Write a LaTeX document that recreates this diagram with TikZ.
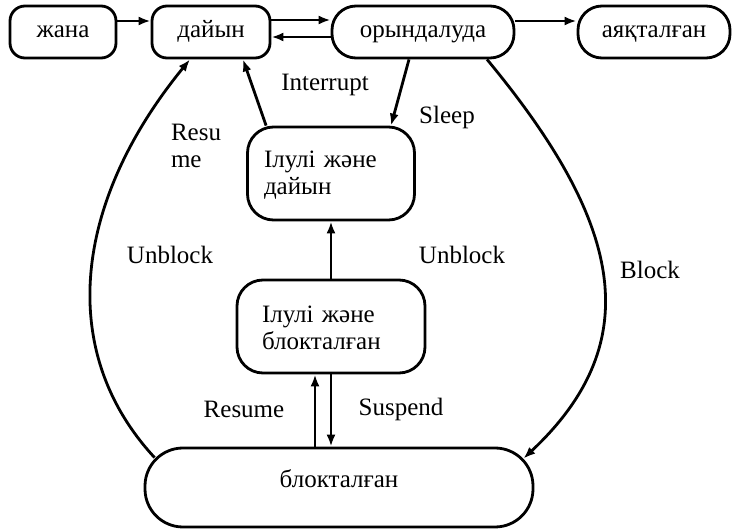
\documentclass[tikz,border=0pt]{standalone}
\usepackage{fontspec}
\setmainfont{Liberation Serif}
\usetikzlibrary{arrows.meta}

\begin{document}
\begin{tikzpicture}[x=1pt, y=-1pt, line width=2.8pt, >={Latex[length=12pt,width=9pt]},
        state/.style={draw, inner sep=0pt, minimum height=52pt, text height=11pt, text depth=0pt, font=\fontsize{25}{27}\selectfont},
        susp/.style={draw, inner sep=0pt, minimum height=93pt, rounded corners=26pt, align=left, font=\fontsize{25}{27}\selectfont},
        lbl/.style={inner sep=0pt, align=left, font=\fontsize{25}{27}\selectfont}]
        \useasboundingbox (0,0) rectangle (732,529);

        \node[state, rounded corners=15pt, minimum width=106pt] (new) at (63,32) {жана};
        \node[state, rounded corners=15pt, minimum width=118pt] (ready) at (211,32) {дайын};
        \node[state, rounded corners=24pt, minimum width=182pt] (running) at (423,32) {орындалуда};
        \node[state, rounded corners=24pt, minimum width=152pt] (exit) at (654,32) {аяқталған};
        \node[susp, minimum width=167pt, text width=134pt] (readysusp) at (331,173.5) {\rule{0pt}{20pt}Ілулі және\\дайын};
        \node[susp, minimum width=188pt, text width=138pt] (blocksusp) at (331,326.5) {\rule{0pt}{20pt}Ілулі және\\блокталған};
        \node[state, rounded corners=38pt, minimum width=388pt, minimum height=79pt, text depth=10pt] (blocked) at (339,487.5) {блокталған};

        \node[lbl] (interrupt) at (325,85) {Interrupt};
        \node[lbl] (sleep) at (447,117) {Sleep};
        \node[lbl] (resu) at (196,146) {Resu\\me};
        \node[lbl] (unblockl) at (170,255) {Unblock};
        \node[lbl] (unblockr) at (462,255) {Unblock};
        \node[lbl] (block) at (650,270) {Block};
        \node[lbl] (resume) at (244,409) {Resume};
        \node[lbl] (suspend) at (401,409) {Suspend};

        \draw[->] ([yshift=11pt]new.east) -- ([yshift=11pt]ready.west);
        \draw[->] ([yshift=12pt]ready.east) -- ([yshift=12pt]running.west);
        \draw[->] ([yshift=-5pt]running.west) -- ([yshift=-5pt]ready.east);
        \draw[->] ([yshift=11pt]running.east) -- ([yshift=11pt]exit.west);
        \draw[->] ([xshift=20pt]readysusp.north west) -- ([xshift=32pt]ready.south);
        \draw[->] ([xshift=-14pt]running.south) -- ([xshift=60pt]readysusp.north);
        \draw[->] (blocksusp) -- (readysusp);
        \draw[->] ([xshift=-24pt]blocked.north) -- ([xshift=-16pt]blocksusp.south);
        \draw[->] (blocksusp.south) -- ([xshift=-8pt]blocked.north);
        \draw[->] ([shift={(11,11)}]blocked.north west) .. controls (55,350) and (75,200) .. ([xshift=-21pt]ready.south);
        \draw[->] ([xshift=64pt]running.south) .. controls (620,220) and (650,340) .. ([shift={(-11,12)}]blocked.north east);
    \end{tikzpicture}
\end{document}
